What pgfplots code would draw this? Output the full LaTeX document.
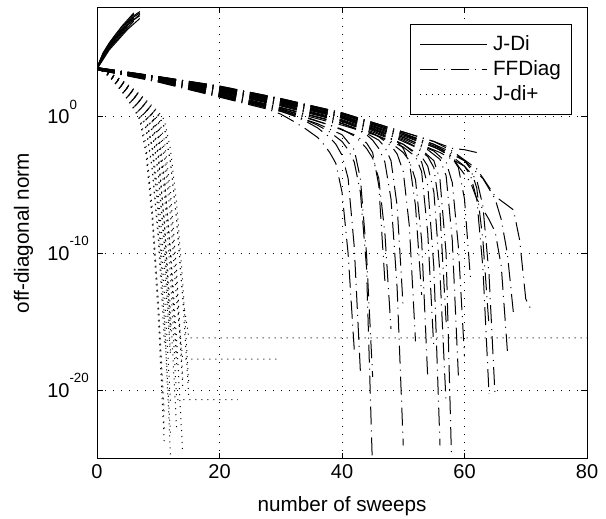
\documentclass[border=0pt]{standalone}
\usepackage{fontspec}
\setmainfont{Liberation Sans}
\usepackage{pgfplots}
\pgfplotsset{compat=1.18}
\pgfplotsset{
 jdi/.style={black, line width=0.75pt, solid},
 ffd/.style={black, line width=0.75pt, dash pattern=on 13.5pt off 4.5pt on 0.75pt off 4.5pt},
 jdp/.style={black, line width=0.75pt, dash pattern=on 0.75pt off 3.75pt},
}
\newcommand{\ex}[1]{10\raisebox{11pt}[0pt][0pt]{\fontsize{10}{12}\selectfont #1}}
\begin{document}
\begin{tikzpicture}
\begin{axis}[
 scale only axis, width=367.5pt, height=338.6pt,
 at={(0,0)}, anchor=south west,
 xmin=0, xmax=80, ymode=log, ymin=1e-25, ymax=1e8,
 xtick={0,20,40,60,80}, xticklabels={0,20,40,60,80},
 ytick={1e-20,1e-10,1}, yticklabels={\ex{-20},\ex{-10},\ex{0}},
 yminorticks=false,
 tick align=inside, major tick length=4.5pt,
 xmajorgrids, ymajorgrids,
 grid style={black, line width=0.75pt, dash pattern=on 0.75pt off 5.25pt},
 axis line style={black, line width=0.75pt},
 every tick/.style={black, line width=0.75pt},
 ticklabel style={font=\fontsize{15}{18}\selectfont},
 yticklabel style={anchor=west, inner sep=0pt, xshift=-37.5pt},
 xticklabel style={yshift=-1pt},
 xlabel={number of sweeps}, ylabel={off-diagonal norm},
 label style={font=\fontsize{15.5}{18}\selectfont},
 xlabel style={at={(axis description cs:0.5,-0.104)}, anchor=center},
 ylabel style={at={(axis description cs:-0.15,0.5)}, anchor=center},
 legend style={at={(axis description cs:0.9694,0.9635)}, anchor=north east, draw=black, line width=0.75pt, fill=white, inner xsep=6.5pt, inner ysep=7pt, row sep=2.5pt, font=\fontsize{15.5}{18}\selectfont, nodes={inner sep=1.5pt, text depth=0.2em}, cells={anchor=west}},
 legend image code/.code={\draw[#1] (0pt,0pt) -- (50pt,0pt); \path (53pt,0pt);},
]
\addlegendimage{jdi}\addlegendentry{J-Di}
\addlegendimage{ffd}\addlegendentry{FFDiag}
\addlegendimage{jdp}\addlegendentry{J-di+}

% ---------------- J-Di (diverging) ----------------
\addplot[jdi] coordinates {(0,4e3)(1,4e4)(2,2e5)(3,7.9e5)(4,2.5e6)(5,7.9e6)(6,2.5e7)(7,5e7)};
\addplot[jdi] coordinates {(0,3.2e3)(1,2.5e4)(2,1.26e5)(3,5e5)(4,1.58e6)(5,5e6)(6,1.58e7)};
\addplot[jdi] coordinates {(0,4e3)(1,3.2e4)(2,1.58e5)(3,6.3e5)(4,2e6)(5,6.3e6)(6,2e7)(7,4e7)};
\addplot[jdi] coordinates {(0,3.2e3)(1,2e4)(2,1e5)(3,3.2e5)(4,1e6)(5,3.2e6)(6,1e7)};
\addplot[jdi] coordinates {(0,4e3)(1,5e4)(2,2.5e5)(3,1e6)(4,3.2e6)(5,1e7)(6,3.2e7)};
\addplot[jdi] coordinates {(0,3.2e3)(1,1.58e4)(2,7.9e4)(3,2.5e5)(4,7.9e5)(5,2.5e6)(6,6.3e6)(7,1.58e7)};
\addplot[jdi] coordinates {(0,4e3)(1,3.2e4)(2,2e5)(3,6.3e5)(4,2e6)(5,5e6)(6,1.26e7)(7,3.2e7)};
\addplot[jdi] coordinates {(0,3.2e3)(1,2.5e4)(2,1e5)(3,4e5)(4,1.26e6)(5,4e6)};
\addplot[jdi] coordinates {(0,4e3)(1,4e4)(2,2.5e5)(3,1e6)(4,4e6)(5,1.26e7)(6,4e7)};
\addplot[jdi] coordinates {(0,3.2e3)(1,2e4)(2,1.26e5)(3,5e5)(4,1.58e6)(5,5e6)(6,1.26e7)(7,2.5e7)};

% ---------------- FFDiag ----------------
\addplot[ffd] coordinates {(0,2.8e3)(10,3.5e2)(20,28)(28,3.5)(30,1.6)(32,0.5)(34,0.14)(36,0.032)(37,0.01)(38,2.5e-3)(39,4e-4)(40,3.2e-6)(41,1e-10)(42,1e-17)};
\addplot[ffd] coordinates {(0,2.95e3)(10,4e2)(20,34)(30,2.8)(32,1.26)(34,0.5)(36,0.16)(38,0.032)(39,0.01)(40,1.6e-3)(41,3.2e-5)(42,3.2e-10)(43,2.5e-19)};
\addplot[ffd] coordinates {(0,3e3)(10,4.3e2)(20,41)(30,3.5)(34,0.63)(36,0.25)(38,0.079)(40,0.016)(41,4e-3)(42,5e-4)(43,3.2e-6)(44,1e-11)(45,1e-26)};
\addplot[ffd] coordinates {(0,3.2e3)(10,4.7e2)(20,49)(30,4)(36,0.5)(40,0.126)(42,0.04)(43,0.016)(44,5e-3)(45,1e-3)(46,3.2e-5)(47,3.2e-9)(48,3.2e-16)};
\addplot[ffd] coordinates {(0,3.2e3)(10,5.1e2)(20,59)(30,5)(40,0.35)(42,0.16)(44,0.05)(45,0.02)(46,5e-3)(47,5e-4)(48,1e-6)(49,3.2e-13)(50,1e-24)};
\addplot[ffd] coordinates {(0,3.3e3)(10,5.6e2)(20,71)(30,7.1)(40,0.5)(44,0.1)(46,0.035)(48,7.9e-3)(49,2e-3)(50,1e-4)(51,1e-8)(52,4e-17)};
\addplot[ffd] coordinates {(0,3.2e3)(10,5.4e2)(20,65)(30,6.3)(40,0.45)(45,0.063)(48,0.0126)(50,2.5e-3)(51,6.3e-4)(52,2.5e-5)(53,1e-9)(54,7.9e-20)};
\addplot[ffd] coordinates {(0,3.5e3)(10,6.2e2)(20,85)(30,8.9)(40,0.63)(45,0.1)(50,0.01)(52,2e-3)(53,5e-4)(54,1e-5)(55,1e-11)(56,1e-24)};
\addplot[ffd] coordinates {(0,3.5e3)(10,6.8e2)(20,1e2)(30,11)(40,0.89)(45,0.14)(50,0.02)(53,4e-3)(55,6.3e-4)(56,2.5e-5)(57,1e-10)(58,1e-27)};
\addplot[ffd] coordinates {(0,3.4e3)(10,5.9e2)(20,78)(30,7.9)(40,0.56)(45,0.079)(50,0.01)(53,1.26e-3)(54,2.5e-4)(55,3.2e-6)(56,3.2e-12)(57,1e-21)};
\addplot[ffd] coordinates {(0,3.6e3)(10,7.1e2)(20,1.1e2)(30,12.6)(40,1)(45,0.16)(50,0.025)(54,4e-3)(56,7.9e-4)(57,5e-5)(58,1e-9)(59,1.26e-19)};
\addplot[ffd] coordinates {(0,3.7e3)(10,7.4e2)(20,1.2e2)(30,14)(40,1.12)(45,0.2)(50,0.032)(55,3.2e-3)(57,5e-4)(58,1.6e-5)(59,3.2e-10)(60,3.2e-18)};
\addplot[ffd] coordinates {(0,3.8e3)(10,7.8e2)(20,1.35e2)(30,15.8)(40,1.26)(50,0.04)(55,6.3e-3)(58,1.26e-3)(60,2.5e-4)(61,5e-5)(62,1e-6)(63,1e-11)(64,6.3e-21)};
\addplot[ffd] coordinates {(0,3.8e3)(10,8.1e2)(20,1.5e2)(30,17.8)(40,1.5)(50,0.05)(55,0.01)(58,2.5e-3)(60,6.3e-4)(61,1.6e-4)(62,6.3e-6)(63,1e-9)(64,5e-16)};
\addplot[ffd] coordinates {(0,3.9e3)(10,8.5e2)(20,1.6e2)(30,20)(40,1.7)(50,0.063)(55,0.01)(58,1.26e-3)(59,2.5e-4)(61,1.6e-5)(62,1e-6)(64,3.2e-8)(65,4e-9)(66,1.26e-11)(67,7.9e-18)};
\addplot[ffd] coordinates {(0,4e3)(10,8.9e2)(20,1.8e2)(30,22)(40,2)(50,0.079)(55,0.016)(58,3.2e-3)(62,1.6e-4)(65,1.6e-6)(68,1.6e-7)(69,1e-9)(70,5e-14)(71,6.3e-15)};
\addplot[ffd] coordinates {(0,4e3)(10,8.5e2)(20,1.6e2)(30,20)(40,1.7)(50,0.063)(56,5e-3)(60,6.3e-4)(63,3.2e-5)(65,1e-6)(66,3.2e-8)(67,1e-10)(68,4e-15)};
\addplot[ffd] coordinates {(0,4e3)(10,8.9e2)(20,1.8e2)(30,22)(40,2)(50,0.079)(55,0.016)(58,5e-3)(60,4e-3)(62,2.5e-3)};
\addplot[ffd] coordinates {(0,3e3)(10,4e2)(20,37)(30,3.2)(38,0.25)(42,0.05)(44,0.0126)(45,2.5e-3)(46,1e-5)(47,1e-12)};
\addplot[ffd] coordinates {(0,3.2e3)(10,4.9e2)(20,54)(30,4.5)(40,0.32)(44,0.063)(46,0.02)(47,6.3e-3)(48,6.3e-4)(49,3.2e-7)(50,1e-14)};
\addplot[ffd] coordinates {(0,3.5e3)(10,6.5e2)(20,93)(30,10)(40,0.79)(46,0.079)(49,0.016)(50,5e-3)(51,5e-4)(52,3.2e-7)(53,1e-13)};
\addplot[ffd] coordinates {(0,3.1e3)(10,4.5e2)(20,45)(30,3.7)(40,0.25)(46,0.04)(50,6.3e-3)(52,1.26e-3)(53,1e-4)(54,3.2e-9)(55,1e-17)};
\addplot[ffd] coordinates {(0,3.5e3)(10,6.8e2)(20,1e2)(30,11)(40,0.89)(48,0.04)(52,6.3e-3)(54,1.26e-3)(55,2e-4)(56,1e-7)(57,1e-15)};
\addplot[ffd] coordinates {(0,3.8e3)(10,8.1e2)(20,1.5e2)(30,17.8)(40,1.5)(50,0.05)(56,4e-3)(58,1e-3)(59,2e-4)(60,1e-6)(61,1e-12)};
\addplot[ffd] coordinates {(0,3.7e3)(10,7.4e2)(20,1.2e2)(30,14)(40,1.12)(50,0.032)(56,2.5e-3)(60,2.5e-4)(62,2.5e-5)(63,3.2e-7)(64,3.2e-12)(65,3.2e-21)};
\addplot[ffd] coordinates {(0,2.9e3)(10,3.8e2)(20,31)(30,2.5)(36,0.32)(40,0.05)(42,4e-3)(43,3.2e-5)(44,1e-10)(45,1e-19)};

% ---------------- J-di+ ----------------
\addplot[jdp] coordinates {(0,4e3)(2,8.9e2)(4,78)(5,18)(6,3.8)(7,0.58)(8,2.3e-3)(9,9.1e-8)(10,4e-14)(11,1.6e-22)};
\addplot[jdp] coordinates {(0,4e3)(2,9.8e2)(4,98)(5,25)(6,5.8)(7,1.17)(8,8.9e-3)(9,2.5e-7)(10,2.5e-14)(11,1.26e-23)};
\addplot[jdp] coordinates {(0,4e3)(2,1.05e3)(4,1.2e2)(5,33)(6,8.1)(7,1.86)(8,0.138)(9,1.8e-4)(10,3.8e-9)(11,1.26e-15)(12,6.3e-24)};
\addplot[jdp] coordinates {(0,4e3)(2,1.12e3)(4,1.35e2)(5,39)(6,10.5)(7,2.45)(8,0.24)(9,2e-4)(10,1.05e-9)(11,3.2e-17)};
\addplot[jdp] coordinates {(0,4e3)(2,1.17e3)(4,1.6e2)(5,50)(6,14)(7,3.6)(8,0.78)(9,4.9e-3)(10,3.1e-7)(11,1.95e-13)(12,1.26e-21)};
\addplot[jdp] coordinates {(0,4e3)(2,1.23e3)(4,1.8e2)(5,59)(6,17)(7,4.7)(8,1.15)(9,6e-3)(10,6.9e-8)(11,2e-15)(12,1.6e-25)};
\addplot[jdp] coordinates {(0,4e3)(2,1.3e3)(4,2e2)(5,68)(6,20)(7,5.9)(8,1.5)(9,0.085)(10,7.4e-5)(11,1e-9)(12,2.2e-16)};
\addplot[jdp] coordinates {(0,4e3)(2,1.3e3)(4,2.2e2)(5,78)(6,25)(7,7.1)(8,2)(9,0.15)(10,7.4e-5)(11,2.3e-10)(12,5e-18)};
\addplot[jdp] coordinates {(0,4e3)(2,1.4e3)(4,2.5e2)(5,87)(6,29)(7,8.7)(8,2.5)(9,0.41)(10,1e-3)(11,2.6e-8)(12,6.5e-15)(13,1.6e-23)};
\addplot[jdp] coordinates {(0,4e3)(2,1.4e3)(4,2.7e2)(5,1e2)(6,34)(7,10.7)(8,3.2)(9,0.74)(10,1.7e-3)(11,1.55e-8)(12,5.6e-16)};
\addplot[jdp] coordinates {(0,4e3)(2,1.5e3)(4,2.9e2)(5,1.1e2)(6,39)(7,12.9)(8,3.9)(9,1.12)(10,0.035)(11,2.1e-5)(12,2.5e-10)(13,5.8e-17)(14,2.5e-25)};
\addplot[jdp] coordinates {(0,4e3)(2,1.5e3)(4,3.1e2)(5,1.2e2)(6,45)(7,15)(8,4.8)(9,1.45)(10,0.065)(11,2.6e-5)(12,1e-10)(13,4.1e-18)};
\addplot[jdp] coordinates {(0,4e3)(2,1.55e3)(4,3.4e2)(5,1.35e2)(6,51)(7,17.8)(8,5.9)(9,1.8)(10,0.138)(11,4.9e-5)(12,8.7e-11)(13,7.9e-19)};
\addplot[jdp] coordinates {(0,4e3)(2,1.6e3)(4,3.7e2)(5,1.6e2)(6,62)(7,22)(8,7.8)(9,2.6)(10,0.6)(11,4.2e-3)(12,4.6e-7)(13,7.9e-13)(14,2.2e-20)};
\addplot[jdp] coordinates {(0,4e3)(2,1.7e3)(4,4.2e2)(5,1.8e2)(6,72)(7,28)(8,10)(9,3.5)(10,1.12)(11,0.0195)(12,3.1e-6)(13,4.9e-12)(14,7.8e-20)};
\addplot[jdp] coordinates {(0,4e3)(2,1.74e3)(4,4.5e2)(5,2e2)(6,85)(7,34)(8,12.9)(9,4.6)(10,1.55)(11,0.17)(12,4.7e-4)(13,3.2e-8)(14,5.6e-14)(15,2.5e-21)};
\addplot[jdp] coordinates {(0,4e3)(2,1.8e3)(4,5e2)(5,2.4e2)(6,1.05e2)(7,44)(8,17)(9,6.5)(10,2.3)(11,0.6)(12,4.2e-3)(13,4.6e-7)(14,7.9e-13)(15,2.2e-20)};
\addplot[jdp] coordinates {(0,4e3)(2,1.17e3)(4,1.55e2)(5,47)(6,12.9)(7,3.2)(8,0.65)(9,7.8e-3)(10,2.3e-6)(11,1.8e-11)(12,3.4e-18)};
\addplot[jdp] coordinates {(0,4e3)(2,1.45e3)(4,2.75e2)(5,1.05e2)(6,36)(7,11.7)(8,3.5)(9,1)(10,2.5e-3)(11,1.6e-8)(12,2.5e-16)};
\addplot[jdp] coordinates {(0,4e3)(2,9.1e2)(4,83)(5,20)(6,4.4)(7,0.74)(8,2.2e-3)(9,3.2e-8)(10,2.5e-15)(11,8.9e-25)};
\addplot[jdp] coordinates {(0,4e3)(2,1.74e3)(4,4.5e2)(5,2e2)(6,85)(7,34)(8,12.9)(9,4.6)(10,1.55)(11,0.17)(12,4.7e-4)(13,3.2e-8)(14,5.6e-14)(15,7.1e-17)(80,7.1e-17)};
\addplot[jdp] coordinates {(0,4e3)(2,1.6e3)(4,3.5e2)(5,1.45e2)(6,55)(7,19.5)(8,6.5)(9,2)(10,0.32)(11,9.5e-4)(12,4.6e-8)(13,3.5e-14)(14,2e-18)(30,2e-18)};
\addplot[jdp] coordinates {(0,4e3)(2,1.5e3)(4,3e2)(5,1.17e2)(6,42)(7,13.8)(8,4.4)(9,1.3)(10,0.026)(11,2.9e-6)(12,2e-12)(13,2.2e-21)(23,2.2e-21)};
\end{axis}
\pgfresetboundingbox
\path[use as bounding box] ([xshift=-72.75pt,yshift=-45pt]current axis.south west) rectangle ([xshift=14.25pt,yshift=5.6pt]current axis.north east);
\end{tikzpicture}
\end{document}
